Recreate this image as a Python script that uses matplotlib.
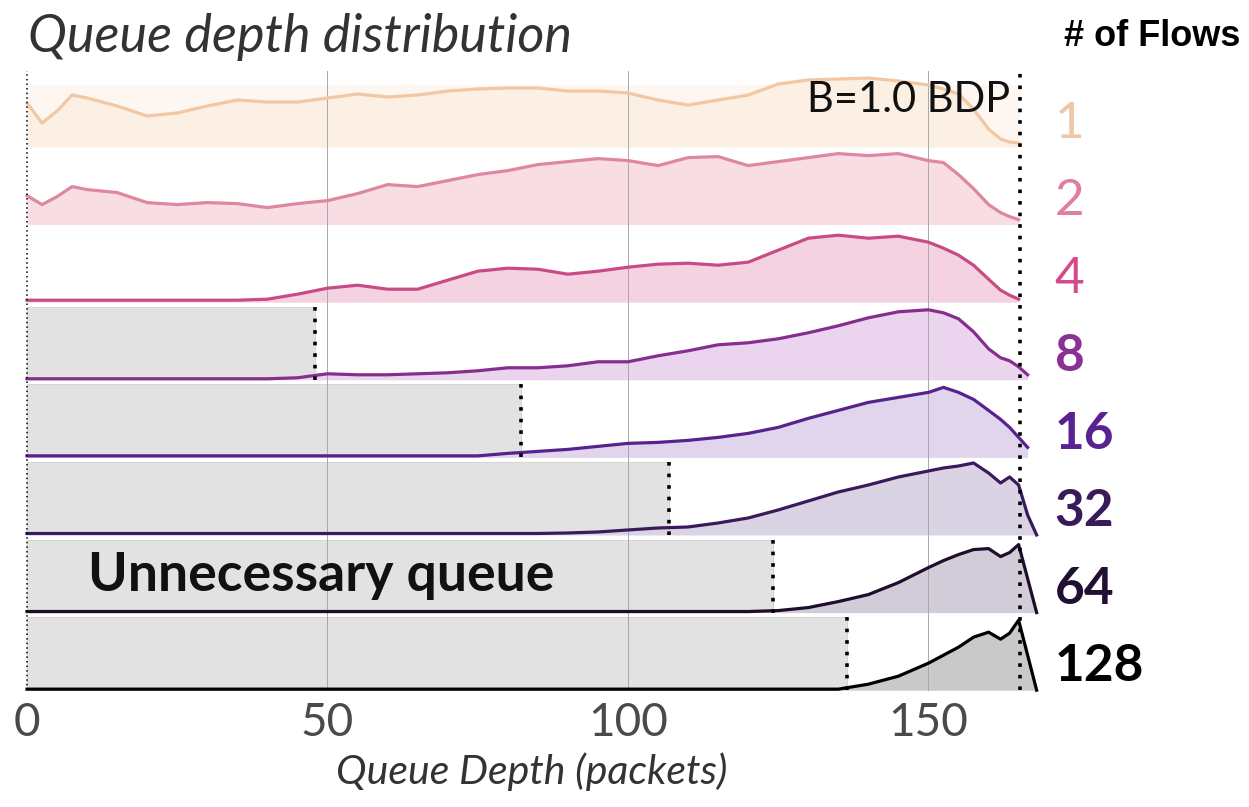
import numpy as np
import matplotlib
matplotlib.use("Agg")
import matplotlib.pyplot as plt
from matplotlib.patches import Rectangle

nan = np.nan

depth = [0, 2.5, 5, 7.5, 10, 15, 20, 25, 30, 35, 40, 45, 50, 55, 60, 65, 70, 75,
         80, 85, 90, 95, 100, 105, 110, 115, 120, 125, 130, 135, 140, 145, 150,
         152.5, 155, 157.5, 160, 162, 163.5, 165, 166.5, 168]

flows = ["1", "2", "4", "8", "16", "32", "64", "128"]

# relative density (a.u.), nan = past the end of the trace
dens_1 = [44, 24, 36, 52, 49, 41, 31, 34, 41, 47, 45, 45, 49, 53, 50, 52, 56, 58,
          59, 59, 56, 56, 54, 47, 42, 47, 52, 63, 67, 68, 69, 66, 62,
          58, 53, 38, 18, 8, 5, 4, nan, nan]
dens_2 = [29, 20, 28, 38, 35, 32, 22, 20, 22, 21, 17, 21, 24, 31, 40, 38, 44, 50,
          54, 60, 63, 66, 64, 59, 67, 68, 59, 63, 67, 71, 69, 71, 64,
          62, 50, 36, 20, 12, 8, 5, nan, nan]
dens_4 = [2, 2, 2, 2, 2, 2, 2, 2, 2, 2, 3, 8, 14, 17, 13, 13, 22, 31,
          34, 33, 28, 31, 35, 38, 39, 37, 40, 52, 64, 67, 64, 66, 60,
          54, 47, 37, 23, 12, 7, 3, nan, nan]
dens_8 = [1, 1, 1, 1, 1, 1, 1, 1, 1, 1, 1, 2, 6, 5, 5, 6, 7, 9,
          12, 12, 14, 18, 18, 24, 29, 35, 37, 41, 47, 54, 62, 68, 70,
          67, 61, 48, 31, 22, 19, 13, 5, nan]
dens_16 = [1.5, 1.5, 1.5, 1.5, 1.5, 1.5, 1.5, 1.5, 1.5, 1.5, 1.5, 1.5, 1.5, 1.5, 1.5, 1.5, 1.5, 1.5,
           4, 6, 8, 11, 14, 15, 17, 20, 24, 30, 39, 47, 55, 60, 65,
           70, 65, 58, 47, 38, 30, 20, 10, nan]
dens_32 = [1.5, 1.5, 1.5, 1.5, 1.5, 1.5, 1.5, 1.5, 1.5, 1.5, 1.5, 1.5, 1.5, 1.5, 1.5, 1.5, 1.5, 1.5,
           1.5, 1.5, 2, 3, 5, 7, 8, 12, 17, 25, 34, 43, 50, 58, 64,
           67, 69, 72, 62, 52, 58, 50, 20, 0]
dens_64 = [1, 1, 1, 1, 1, 1, 1, 1, 1, 1, 1, 1, 1, 1, 1, 1, 1, 1,
           1, 1, 1, 1, 1, 1, 1, 1, 1, 2, 5, 11, 18, 30, 45,
           52, 58, 63, 64, 56, 60, 68, 34, 0]
dens_128 = [1, 1, 1, 1, 1, 1, 1, 1, 1, 1, 1, 1, 1, 1, 1, 1, 1, 1,
            1, 1, 1, 1, 1, 1, 1, 1, 1, 1, 1, 1, 6, 14, 27,
            35, 43, 53, 58, 51, 57, 70, 35, 0]

# queue that never drains (packets), None = no grey box
min_queue = [None, None, None, 47.9, 82.2, 106.8, 124.2, 136.4]
bdp = 165.3

line_colors = ["#f1c7a4", "#df879c", "#c94b86", "#862e8e", "#58228e", "#3b1a5b", "#1d0e2c", "#000000"]
fill_colors = ["#fcefe3", "#f8dde4", "#f4d2e2", "#ebd5ee", "#e1d5ee", "#dad3e4", "#d1ccd7", "#c9c9c9"]
label_colors = ["#efc6a6", "#df7f99", "#d54a8a", "#8a3096", "#5a2290", "#3a1b5a", "#200f30", "#000000"]
label_weights = ["normal", "normal", "normal", "bold", "bold", "bold", "bold", "bold"]

all_dens = [dens_1, dens_2, dens_4, dens_8, dens_16, dens_32, dens_64, dens_128]
unit = 77.6

fig = plt.figure(figsize=(12.49, 8.07), dpi=100)
ax = fig.add_axes([0.012, 0.139, 0.8276, 0.775])
ax.set_xlim(-2, 170)
ax.set_ylim(-7.06, 1.0)

x = np.array(depth)

# faint band behind the first row
ax.add_patch(Rectangle((0, 0), bdp, 0.8, facecolor="#fef7f1", edgecolor="none", zorder=0.2))

for i, d in enumerate(all_dens):
    base = -i
    h = np.array(d, dtype=float) / unit
    ok = ~np.isnan(h)
    if min_queue[i] is not None:
        ax.add_patch(Rectangle((0, base + 0.04), min_queue[i], 0.9, facecolor="#e2e2e2",
                               edgecolor="#d0d0d0", lw=0.6, zorder=0.5))
        ax.plot([min_queue[i], min_queue[i]], [base, base + 0.94], color="black", lw=2.6,
                linestyle=(0, (1, 2.2)), zorder=4)
    ax.fill_between(x[ok], base, base + h[ok], color=fill_colors[i], lw=0, zorder=1)
    ax.plot(x[ok], base + h[ok], color=line_colors[i], lw=2.3, zorder=3, solid_joinstyle="round")
    ax.text(171, base + 0.3, flows[i], color=label_colors[i], fontsize=37, family="Lato",
            fontweight=label_weights[i], ha="left", va="center", clip_on=False)

for g in [50, 100, 150]:
    ax.plot([g, g], [-7, 0.98], color="#a8a8a8", lw=0.7, zorder=2)

ax.plot([0, 0], [-7, 0.98], color="black", lw=1.1, linestyle=(0, (1, 2)), zorder=4)
ax.plot([bdp, bdp], [-7, 0.96], color="black", lw=2.6, linestyle=(0, (1, 2.2)), zorder=4)

ax.text(163.6, 0.6, "B=1.0 BDP", fontsize=30, family="Lato", color="#111111",
        ha="right", va="center", zorder=5)
ax.text(10.2, -5.52, "Unnecessary queue", fontsize=38.5, family="Lato", fontweight="bold",
        color="#111111", ha="left", va="center", zorder=5)

ax.set_xticks([0, 50, 100, 150])
ax.set_xticklabels(["0", "50", "100", "150"], fontsize=33, family="Lato", color="#4a4a4a")
ax.tick_params(axis="x", length=0, pad=5)
ax.set_yticks([])
for s in ax.spines.values():
    s.set_visible(False)
ax.set_xlabel("Queue Depth (packets)", fontsize=29.5, family="Lato", style="italic",
              color="#333333", labelpad=6)

fig.text(28 / 1249, 1 - 37 / 807, "Queue depth distribution", fontsize=37.5, family="Lato",
         style="italic", color="#333333", ha="left", va="center")
fig.text(1240 / 1249, 1 - 37 / 807, "# of Flows", fontsize=26, family="Liberation Sans",
         fontweight="bold", color="black", ha="right", va="center")

fig.savefig("out.png", dpi=100)
